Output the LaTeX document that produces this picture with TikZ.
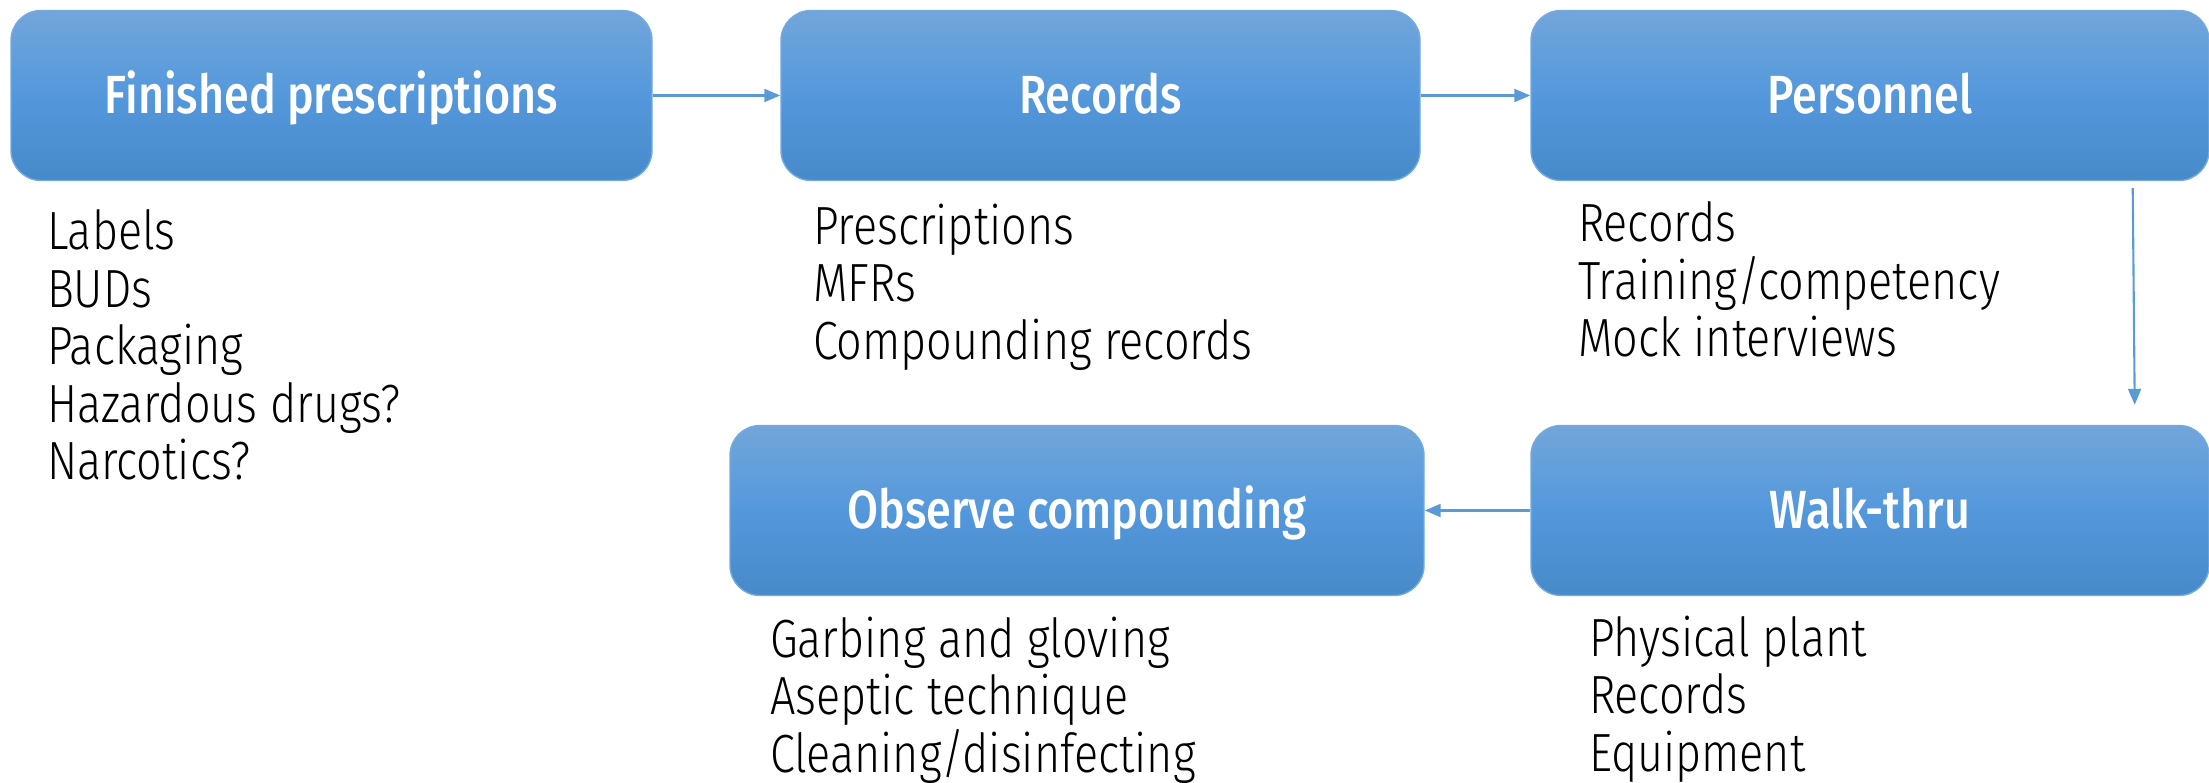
\documentclass[tikz,border=0pt]{standalone}
\usepackage{fontspec}
\setmainfont{Fira Sans}[UprightFont=* Light, FakeStretch=0.835]
\newfontfamily\headfont{Fira Sans}[UprightFont=* Medium, FakeStretch=0.835]
\usetikzlibrary{arrows,arrows.meta}
\usetikzlibrary{positioning}
\definecolor{boxtop}{RGB}{114,166,218}
\definecolor{boxmid}{RGB}{84,152,220}
\definecolor{boxbot}{RGB}{70,138,201}
\definecolor{boxedge}{RGB}{116,170,222}
\definecolor{flowblue}{RGB}{91,155,213}
\tikzset{stage/.style={rounded corners=3mm, draw=boxedge, line width=0.4pt,
    top color=boxtop, bottom color=boxbot, middle color=boxmid,
    text=white, font=\headfont\fontsize{15.3}{18}\selectfont,
    text height=10.5pt, text depth=0pt,
    minimum height=1.7cm, inner sep=0pt},
itemlist/.style={anchor=north west, align=left, inner sep=0pt,
    font=\fontsize{15.3}{16.35}\selectfont}
}

\begin{document}
\begin{tikzpicture}[flow/.style={draw=flowblue, line width=0.6pt, -{Triangle[length=1.6mm,width=1.3mm]}}, on grid]
            \useasboundingbox (0,0) rectangle (22.09,-7.83);
            \node[stage,minimum width=6.41cm] (fin) at (3.315,-0.955) {Finished prescriptions};
            \node[stage,minimum width=6.39cm] (rec) [right=7.69cm of fin] {Records};
            \node[stage,minimum width=6.78cm] (pers) [right=7.695cm of rec] {Personnel};
            \node[stage,minimum width=6.78cm] (walk) [below=4.15cm of pers] {Walk-thru};
            \node[stage,minimum width=6.94cm] (obs) [left=7.93cm of walk] {Observe compounding};
            % what to look at under each step
            \node[itemlist] (finlist) at ([xshift=3.6mm,yshift=-2.8mm]fin.south west)
                {Labels\\BUDs\\Packaging\\Hazardous drugs?\\Narcotics?};
            \node[itemlist] (reclist) at ([xshift=3.2mm,yshift=-2.2mm]rec.south west)
                {Prescriptions\\MFRs\\Compounding records};
            \node[itemlist] (perslist) at ([xshift=4.7mm,yshift=-2mm]pers.south west)
                {Records\\Training/competency\\Mock interviews};
            \node[itemlist] (obslist) at ([xshift=4mm,yshift=-2mm]obs.south west)
                {Garbing and gloving\\Aseptic technique\\Cleaning/disinfecting};
            \node[itemlist] (walklist) at ([xshift=5.8mm,yshift=-1.9mm]walk.south west)
                {Physical plant\\Records\\Equipment};
            \path[flow] (fin) -- (rec);
            \path[flow] (rec) -- (pers);
            \path[flow] ([xshift=-7.7mm,yshift=-0.7mm]pers.south east) -- ([xshift=-7.5mm,yshift=2mm]walk.north east);
            \path[flow] (walk) -- (obs);
        \end{tikzpicture}
\end{document}
